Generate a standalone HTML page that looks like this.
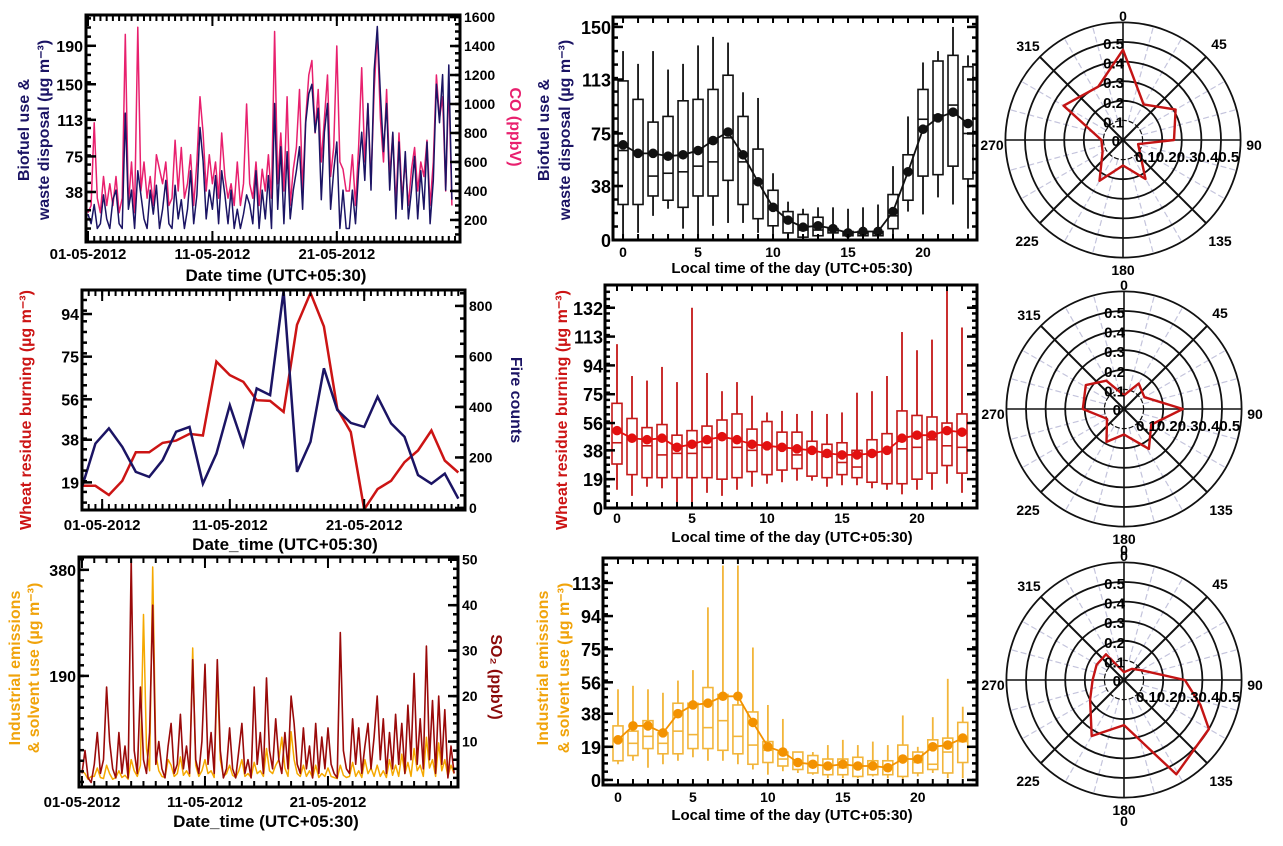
<!DOCTYPE html>
<html><head><meta charset="utf-8"><style>
html,body{margin:0;padding:0;background:#fff;}
svg{display:block;font-family:"Liberation Sans",Arial,sans-serif;font-weight:bold;}
</style></head><body>
<svg id="fig" width="1283" height="846" viewBox="0 0 1283 846" xmlns="http://www.w3.org/2000/svg"></svg>
<script>
// ---------- DATA ----------
const p1Biofuel=[15,5,25,0, 5,35,10,0, 30,40,5,0, 120,20,40,0, 60,35,10,0, 40,15,45,0, 20,50,5,0, 45,10,30,0, 20,60,5,35, 105,70,10,40,
 20,55,5,60, 35,5,40,0, 20,0,15,35, 25,5,60,0, 40,10,55,0, 130,20,85,5, 80,10,40,60, 85,20,110,140, 150,100,125,30, 100,130,20,60,
 90,0,40,0, 0,40,5,60, 100,50,130,40, 165,210,140,80, 130,40,100,10, 90,20,80,10, 40,75,10,60, 20,90,5,50, 150,110,160,40, 170,30];
const p1CO=[250,300,870,350, 250,500,300,450, 300,500,250,350, 1480,300,600,250, 1530,400,600,350, 500,300,650,550, 450,600,300,350, 750,400,700,350, 450,650,300,600, 1050,800,400,650,
 450,600,350,800, 500,350,450,300, 600,300,450,1000, 450,350,600,300, 550,400,650,350, 1500,450,800,400, 1050,300,550,700, 1100,400,900,1200, 1300,800,1100,600, 900,1200,500,700,
 1400,600,550,400, 400,650,300,700, 1250,600,1000,450, 1100,1500,900,600, 1100,500,800,300, 800,350,600,300, 550,700,400,600, 500,750,300,600, 1200,900,1050,400, 1150,300];
const dateTicks=[0,10,20];
const dateLabels=['01-05-2012','11-05-2012','21-05-2012'];
const p1LeftTicks=[38,75,113,150,190];
const p1RightTicks=[200,400,600,800,1000,1200,1400,1600];
const hours=[0,1,2,3,4,5,6,7,8,9,10,11,12,13,14,15,16,17,18,19,20,21,22,23];
const p2Low=[0,5,17,22,8,0,10,12,12,5,3,2,0,0,0,0,0,0,3,20,18,30,25,8];
const p2Q1=[25,25,31,28,23,31,31,42,25,15,10,5,2,3,5,3,3,3,8,28,45,46,52,43];
const p2Med=[63,60,45,47,48,52,55,72,55,40,22,13,7,7,7,5,5,5,17,48,85,88,95,75];
const p2Q3=[112,99,83,87,98,99,106,116,87,64,35,20,18,16,8,6,6,6,32,60,106,126,130,122];
const p2High=[133,124,133,120,124,137,143,139,104,100,47,27,22,23,23,22,23,25,52,87,125,133,150,130];
const p2Mean=[67,61,61,59,60,63,70,76,60,41,23,14,9,10,8,5,6,6,20,48,78,86,90,82];
const p2Ticks=[0,38,75,113,150];
const hourTicks=[0,5,10,15,20];
const p3Dir=[0,30,60,90,105,150,180,210,240,270,300,335];
const p3Val=[0.46,0.21,0.31,0.26,0.08,0.23,0.13,0.24,0.12,0.11,0.35,0.30];
const p4Wheat=[17.5,17.5,13.4,19.7,32.4,32.4,36.6,37.6,40.6,39.9,72.8,66.8,63.8,55.6,55.3,50.4,89.2,103.4,88.5,51.8,41.4,7,16,19.7,28,33.2,42.1,28.7,23.4];
const p4Fire=[83,255,315,242,143,123,189,302,321,96,215,407,249,473,447,860,143,262,553,388,337,321,440,335,282,130,96,136,37];
const p4DateTicks=[1.5,11,21];
const p4LeftTicks=[19,38,56,75,94];
const p4RightTicks=[0,200,400,600,800];
const p5Low=[12,8,14,13,2,0,10,8,12,14,16,17,18,18,14,15,15,13,12,9,12,12,16,10];
const p5Q1=[29,22,20,20,20,20,20,19,20,24,22,25,26,21,20,22,20,17,16,16,19,23,28,23];
const p5Med=[43,45,41,35,36,36,40,46,40,38,41,40,35,38,34,30,27,35,38,39,40,45,41,40];
const p5Q3=[69,59,53,55,48,51,54,58,62,52,57,50,50,44,42,43,38,45,49,64,61,60,56,62];
const p5High=[108,87,84,93,83,132,89,77,83,74,63,64,62,64,62,63,76,77,87,116,104,111,147,119];
const p5Mean=[51,46,45,46,40,42,45,47,45,42,41,40,39,38,36,35,35,36,38,46,48,48,51,50];
const p5Ticks=[0,19,38,56,75,94,113,132];
const p6Dir=[0,30,60,90,120,148,180,208,240,270,302,328];
const p6Val=[0.07,0.15,0.12,0.30,0.16,0.24,0.13,0.19,0.10,0.21,0.23,0.17];
const p7SO2=[3,8,2,1, 5,12,3,6, 22,10,4,2, 12,3,9,2, 50,8,3,22, 6,3,12,40, 5,10,4,2, 9,14,3,5, 16,4,9,3, 28,6,3,10,
 27,5,12,3, 28,8,2,4, 13,4,2,8, 14,3,6,2, 22,5,12,3, 24,8,4,15, 6,3,12,4, 20,14,5,3, 13,4,9,2, 14,3,11,4,
 13,5,3,2, 34,8,4,3, 15,5,13,3, 9,14,4,11, 20,6,15,3, 12,4,16,5, 14,3,18,6, 25,5,15,4, 31,6,19,3, 20,5,17,2, 9,3];
const p7Ind=[20,15,5,10, 10,25,8,6, 30,15,5,8, 20,8,12,5, 40,20,10,30, 300,60,20,385, 50,20,10,8, 40,30,10,15, 45,12,20,10, 240,30,10,20,
 40,15,20,8, 197,40,10,15, 30,12,8,20, 40,10,15,8, 35,15,20,10, 60,20,15,30, 40,80,25,10, 90,40,15,10, 30,10,20,8, 30,8,15,10,
 25,10,8,6, 30,12,8,10, 35,10,20,8, 40,15,25,10, 30,10,20,8, 40,12,30,10, 50,15,35,10, 60,20,30,10, 80,25,40,10, 70,20,40,10, 30,15];
const p7LeftTicks=[190,380];
const p7RightTicks=[10,20,30,40,50];
const p8Low=[9,11,7,9,11,13,11,11,9,6,3,5,4,3,1,1,1,2,1,0,2,4,1,1];
const p8Q1=[11,14,18,15,15,18,18,17,15,9,10,8,6,4,3,3,2,3,3,2,4,6,4,10];
const p8Med=[22,21,25,21,28,26,30,34,25,20,17,12,10,8,8,7,7,9,7,11,10,9,16,22];
const p8Q3=[31,28,34,27,44,44,53,49,43,39,22,16,16,14,12,12,13,11,11,20,16,23,24,33];
const p8High=[52,54,52,50,57,63,99,123,123,76,43,35,16,16,20,23,20,22,20,37,19,36,58,42];
const p8Mean=[23,31,31,27,38,43,44,48,48,33,19,16,10,9,8,9,8,8,7,12,12,19,20,24];
const p8Ticks=[0,19,38,56,75,94,113];
const p9Dir=[0,35,60,90,108,120,151,180,210,240,270,299,325];
const p9Val=[0.04,0.07,0.10,0.31,0.41,0.50,0.55,0.23,0.33,0.20,0.16,0.16,0.16];

// ---------- HELPERS ----------
const NS='http://www.w3.org/2000/svg';
const svg=document.getElementById('fig');
function mk(tag,attrs,name,parent){
  const e=document.createElementNS(NS,tag);
  for(const k in attrs) e.setAttribute(k,attrs[k]);
  
  
  (parent||svg).appendChild(e);
  return e;
}
function txt(x,y,s,size,fill,anchor,name,parent,rot){
  const a={x:x,y:y,'font-size':size,fill:fill||'#000','text-anchor':anchor||'middle'};
  if(rot) a.transform='rotate('+rot+' '+x+' '+y+')';
  const t=mk('text',a,name,parent);
  t.textContent=s;
  return t;
}
function lin(d0,d1,r0,r1){return v=>r0+(v-d0)*(r1-r0)/(d1-d0);}
let clipN=0;
function panel(name,b){
  const g=mk('g',{},name);
  const id='clip'+(clipN++);
  const cp=mk('clipPath',{id:id},name+'-clip',g);
  mk('rect',{x:b.x,y:b.y,width:b.w,height:b.h},name+'-clip-rect',cp);
  const inner=mk('g',{'clip-path':'url(#'+id+')'},name+'-plot-area',g);
  return {g:g,inner:inner};
}
function frame(g,b,name){
  mk('rect',{x:b.x,y:b.y,width:b.w,height:b.h,fill:'none',stroke:'#000','stroke-width':3},name+'-frame',g);
}
function yTicks(g,b,ys,ticks,side,len,name){
  ticks.forEach(v=>{
    const y=ys(v);
    if(y<b.y-1||y>b.y+b.h+1) return;
    const x0=side==='left'?b.x:b.x+b.w;
    const dx=side==='left'?len:-len;
    mk('line',{x1:x0,y1:y,x2:x0+dx,y2:y,stroke:'#000','stroke-width':2.5},name+'-tick',g);
  });
}
function xTicks(g,b,xs,ticks,len,name){
  ticks.forEach(v=>{
    const x=xs(v);
    if(x<b.x||x>b.x+b.w) return;
    mk('line',{x1:x,y1:b.y+b.h,x2:x,y2:b.y+b.h-len,stroke:'#000','stroke-width':2},name+'-tick-bottom',g);
    mk('line',{x1:x,y1:b.y,x2:x,y2:b.y+len,stroke:'#000','stroke-width':2},name+'-tick-top',g);
  });
}
function range(a,b,s){const r=[];for(let v=a;v<=b+1e-9;v+=s)r.push(v);return r;}
function series(parent,xs,ys,vals,step,color,w,name){
  const pts=vals.map((v,i)=>xs(i*step).toFixed(1)+','+ys(v).toFixed(1)).join(' ');
  mk('polyline',{points:pts,fill:'none',stroke:color,'stroke-width':w,'stroke-linejoin':'round'},name,parent);
}

function timePanel(o){
  const P=panel(o.name,o.b), b=o.b;
  const xs=lin(o.xd[0],o.xd[1],b.x,b.x+b.w);
  const yl=lin(o.yl[0],o.yl[1],b.y+b.h,b.y);
  const yr=lin(o.yr[0],o.yr[1],b.y+b.h,b.y);
  o.draw(P.inner,xs,yl,yr);
  frame(P.g,b,o.name);
  xTicks(P.g,b,xs,range(Math.ceil(o.xd[0]),o.xd[1],o.minorStep||1),6,o.name+'-x-minor');
  xTicks(P.g,b,xs,o.xt,11,o.name+'-x-major');
  yTicks(P.g,b,yl,o.ylt,'left',10,o.name+'-y-left');
  yTicks(P.g,b,yl,o.ylMinor,'left',5,o.name+'-y-left-minor');
  yTicks(P.g,b,yr,o.yrt,'right',10,o.name+'-y-right');
  yTicks(P.g,b,yr,o.yrMinor,'right',5,o.name+'-y-right-minor');
  o.ylt.forEach(v=>txt(b.x-3,yl(v)+6,String(v),16,'#000','end',o.name+'-y-left-label',P.g));
  o.yrt.forEach(v=>txt(b.x+b.w+4,yr(v)+5,String(v),14,'#000','start',o.name+'-y-right-label',P.g));
  o.xt.forEach((v,i)=>txt(xs(v),o.dateY,o.xl[i],15,'#000','middle',o.name+'-x-label',P.g));
  txt(o.xTitle[0],o.xTitle[1],o.xTitle[2],17,'#000','middle',o.name+'-x-title',P.g);
  o.titles.forEach(t=>txt(t[0],t[1],t[2],16,t[3],'middle',o.name+'-y-title',P.g,t[4]));
  return P;
}

timePanel({name:'panel-biofuel-timeseries',b:{x:86,y:15,w:374,h:227},xd:[-0.16,29.9],yl:[-14,222],yr:[48,1614],
  xt:dateTicks,xl:dateLabels,dateY:259,ylt:p1LeftTicks,ylMinor:range(0,220,9.5),yrt:p1RightTicks,yrMinor:range(100,1600,50),minorStep:0.5,
  xTitle:[276,281,'Date time (UTC+05:30)'],
  titles:[[29,130,'Biofuel use &','#1b1464',-90],[49,130,'waste disposal (µg m⁻³)','#1b1464',-90],[510,127,'CO (ppbV)','#e8206e',90]],
  draw:(g,xs,yl,yr)=>{series(g,xs,yr,p1CO,0.25,'#e8206e',1.5,'co-line');series(g,xs,yl,p1Biofuel,0.25,'#1b1464',1.5,'biofuel-line');}});

timePanel({name:'panel-wheat-daily',b:{x:82,y:290,w:383,h:220},xd:[0,28.5],yl:[6.7,104.7],yr:[-8,863],
  xt:p4DateTicks,xl:dateLabels,dateY:530,ylt:p4LeftTicks,ylMinor:range(10,104,4.75),yrt:p4RightTicks,yrMinor:range(0,850,50),minorStep:0.5,
  xTitle:[285,550,'Date_time (UTC+05:30)'],
  titles:[[31,410,'Wheat residue burning (µg m⁻³)','#cc1414',-90],[511,400,'Fire counts','#1b1464',90]],
  draw:(g,xs,yl,yr)=>{
    const pw=p4Wheat.map((v,i)=>xs(i).toFixed(1)+','+yl(v).toFixed(1)).join(' ');
    mk('polyline',{points:pw,fill:'none',stroke:'#cc1414','stroke-width':2.5},'wheat-line',g);
    const pf=p4Fire.map((v,i)=>xs(i).toFixed(1)+','+yr(v).toFixed(1)).join(' ');
    mk('polyline',{points:pf,fill:'none',stroke:'#1b1464','stroke-width':2.5},'fire-count-line',g);
  }});

timePanel({name:'panel-industrial-timeseries',b:{x:79,y:557,w:379,h:230},xd:[-0.24,30.57],yl:[-9,403],yr:[0,50.6],
  xt:dateTicks,xl:dateLabels,dateY:807,ylt:p7LeftTicks,ylMinor:range(0,400,19),yrt:p7RightTicks,yrMinor:range(0,50,2),minorStep:1,
  xTitle:[266,827,'Date_time (UTC+05:30)'],
  titles:[[20,668,'Industrial emissions','#f0a30a',-90],[39,668,'& solvent use (µg m⁻³)','#f0a30a',-90],[491,677,'SO₂ (ppbV)','#8b0a0a',90]],
  draw:(g,xs,yl,yr)=>{series(g,xs,yl,p7Ind,0.25,'#f5a800',1.5,'industrial-line');series(g,xs,yr,p7SO2,0.25,'#9a0a0a',1.6,'so2-line');}});

function boxPanel(o){
  const P=panel(o.name,o.b), b=o.b;
  const xs=lin(o.xd[0],o.xd[1],b.x,b.x+b.w);
  const ys=lin(o.yd[0],o.yd[1],b.y+b.h,b.y);
  const g=P.inner;
  hours.forEach((h,i)=>{
    const x=xs(h), hw=5;
    mk('line',{x1:x,y1:ys(o.low[i]),x2:x,y2:ys(o.q1[i]),stroke:o.box,'stroke-width':1.8},o.name+'-whisker-low',g);
    mk('line',{x1:x,y1:ys(o.q3[i]),x2:x,y2:ys(o.high[i]),stroke:o.box,'stroke-width':1.8},o.name+'-whisker-high',g);
    mk('rect',{x:x-hw,y:ys(o.q3[i]),width:2*hw,height:Math.max(0.5,ys(o.q1[i])-ys(o.q3[i])),fill:'none',stroke:o.box,'stroke-width':1.6},o.name+'-box',g);
    mk('line',{x1:x-hw,y1:ys(o.med[i]),x2:x+hw,y2:ys(o.med[i]),stroke:o.box,'stroke-width':1.6},o.name+'-median',g);
  });
  const pts=hours.map((h,i)=>xs(h).toFixed(1)+','+ys(o.mean[i]).toFixed(1)).join(' ');
  mk('polyline',{points:pts,fill:'none',stroke:o.dot,'stroke-width':1.8},o.name+'-mean-line',g);
  hours.forEach((h,i)=>mk('circle',{cx:xs(h),cy:ys(o.mean[i]),r:4.8,fill:o.dot},o.name+'-mean-point',g));
  frame(P.g,b,o.name);
  xTicks(P.g,b,xs,hours,6,o.name+'-x-tick');
  yTicks(P.g,b,ys,o.yt,'left',10,o.name+'-y-tick');
  yTicks(P.g,b,ys,o.yt,'right',10,o.name+'-y-tick-r');
  yTicks(P.g,b,ys,range(0,o.yd[1],o.minor),'left',5,o.name+'-y-minor');
  yTicks(P.g,b,ys,range(0,o.yd[1],o.minor),'right',5,o.name+'-y-minor-r');
  o.yt.forEach(v=>txt(b.x-2,ys(v)+7,String(v),o.fs,'#000','end',o.name+'-y-label',P.g));
  hourTicks.forEach(v=>txt(xs(v),o.tickY,String(v),14,'#000','middle',o.name+'-x-label',P.g));
  txt(792,o.titleY,'Local  time of the day (UTC+05:30)',15,'#000','middle',o.name+'-x-title',P.g);
  o.titles.forEach(t=>txt(t[0],t[1],t[2],16,t[3],'middle',o.name+'-y-title',P.g,-90));
}
boxPanel({name:'panel-biofuel-diurnal',b:{x:613,y:17,w:364,h:223},xd:[-0.67,23.6],yd:[0,157],yt:p2Ticks,minor:9.5,fs:18,
  low:p2Low,q1:p2Q1,med:p2Med,q3:p2Q3,high:p2High,mean:p2Mean,box:'#111',dot:'#111',tickY:257,titleY:273,
  titles:[[549,130,'Biofuel use &','#1b1464'],[570,130,'waste disposal (µg m⁻³)','#1b1464']]});
boxPanel({name:'panel-wheat-diurnal',b:{x:605,y:285,w:372,h:223},xd:[-0.8,24],yd:[0,147],yt:p5Ticks,minor:4.75,fs:18,
  low:p5Low,q1:p5Q1,med:p5Med,q3:p5Q3,high:p5High,mean:p5Mean,box:'#c41818',dot:'#e31010',tickY:523,titleY:542,
  titles:[[567,410,'Wheat residue burning (µg m⁻³)','#cc1414']]});
boxPanel({name:'panel-industrial-diurnal',b:{x:603,y:558,w:374,h:227},xd:[-1,23.95],yd:[-2.9,127.3],yt:p8Ticks,minor:4.75,fs:18,
  low:p8Low,q1:p8Q1,med:p8Med,q3:p8Q3,high:p8High,mean:p8Mean,box:'#f2b53a',dot:'#f39200',tickY:802,titleY:820,
  titles:[[548,668,'Industrial emissions','#f0a30a'],[569,668,'& solvent use (µg m⁻³)','#f0a30a']]});

function polar(name,cx,cy,dirs,vals,bottomZero){
  const g=mk('g',{},name);
  const R=v=>v*196;
  for(let a=0;a<360;a+=15){
    if(a%45===0) continue;
    const t=a*Math.PI/180;
    mk('line',{x1:cx+20*Math.sin(t),y1:cy-20*Math.cos(t),x2:cx+118*Math.sin(t),y2:cy-118*Math.cos(t),stroke:'#c4c4dc','stroke-width':1.2,'stroke-dasharray':'6 3'},name+'-minor-spoke',g);
  }
  [0.1,0.2,0.3,0.4,0.5,0.6].forEach(v=>mk('circle',{cx:cx,cy:cy,r:R(v),fill:'none',stroke:'#111','stroke-width':v===0.1?1.2:1.8,'stroke-dasharray':v===0.1?'5 2':'none'},name+'-ring',g));
  for(let a=0;a<360;a+=45){
    const t=a*Math.PI/180;
    mk('line',{x1:cx,y1:cy,x2:cx+118*Math.sin(t),y2:cy-118*Math.cos(t),stroke:'#111','stroke-width':a%90===0?1.6:2},name+'-spoke',g);
  }
  const pts=dirs.map((d,i)=>{const t=d*Math.PI/180;return (cx+R(vals[i])*Math.sin(t)).toFixed(1)+','+(cy-R(vals[i])*Math.cos(t)).toFixed(1);}).join(' ');
  mk('polygon',{points:pts,fill:'none',stroke:'#c41414','stroke-width':2.4,'stroke-linejoin':'round'},name+'-rose',g);
  ['0.1','0.2','0.3','0.4','0.5'].forEach((s,i)=>txt(cx+1,cy-R(0.1*(i+1))+7,s,15,'#000','end',name+'-radial-label',g));
  txt(cx-3,cy+6,'0',15,'#000','end',name+'-radial-zero',g);
  txt(cx+12,cy+22,'0.10.20.30.40.5',15,'#000','start',name+'-radial-axis-label',g);
  const lab=[['0',0,-124],['45',96,-96],['90',131,5],['135',97,101],['180',0,130],['225',-96,101],['270',-131,5],['315',-95,-94]];
  lab.forEach(l=>txt(cx+l[1],cy+l[2]+5,l[0],14,'#000','middle',name+'-angle-label',g));
  if(bottomZero) txt(cx,cy+146,'0',14,'#000','middle',name+'-bottom-zero',g);
}
polar('polar-biofuel',1123,140,p3Dir,p3Val,false);
polar('polar-wheat',1124,409,p6Dir,p6Val,true);
polar('polar-industrial',1124,680,p9Dir,p9Val,true);
</script>
</body></html>
